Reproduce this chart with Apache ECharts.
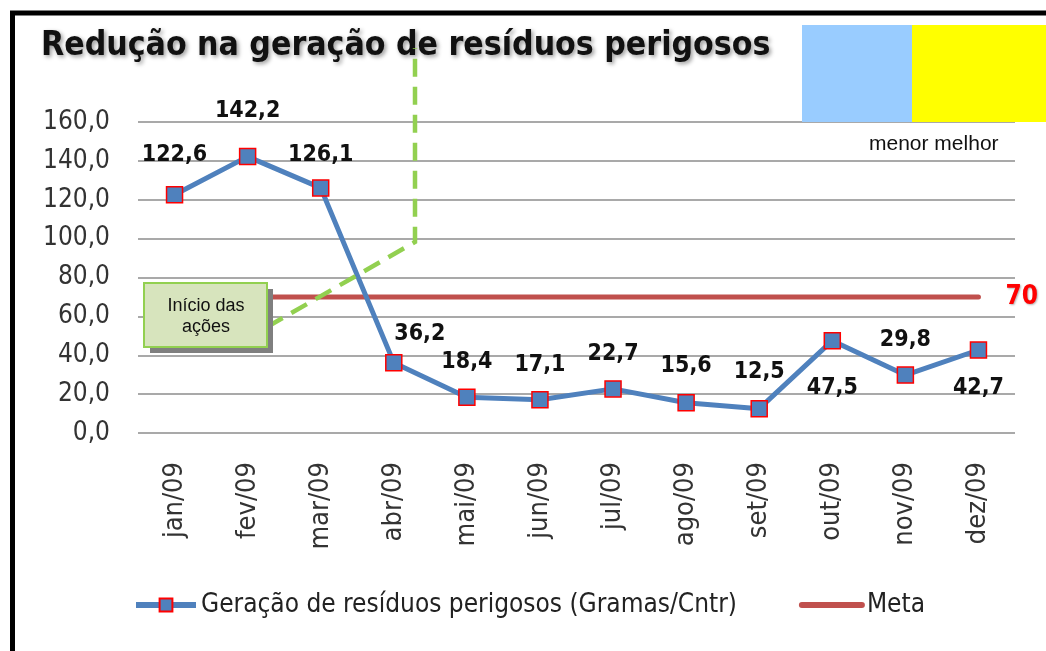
<!DOCTYPE html>
<html>
<head>
<meta charset="utf-8">
<style>
  html, body { margin: 0; padding: 0; background: #fff; }
  #main { width: 1046px; height: 651px; }
</style>
<script src="https://cdn.jsdelivr.net/npm/echarts@6/dist/echarts.min.js"></script>
</head>
<body>
<div id="main"></div>
<script>
var myChart = echarts.init(document.getElementById('main'));

// dados
var meses = ['jan/09', 'fev/09', 'mar/09', 'abr/09', 'mai/09', 'jun/09',
             'jul/09', 'ago/09', 'set/09', 'out/09', 'nov/09', 'dez/09'];
var residuos = [122.6, 142.2, 126.1, 36.2, 18.4, 17.1, 22.7, 15.6, 12.5, 47.5, 29.8, 42.7];
var meta = [70, 70, 70, 70, 70, 70, 70, 70, 70, 70, 70, 70];

var fonte = "'DejaVu Sans Condensed', 'DejaVu Sans', sans-serif";
var arial = "'Liberation Sans', Arial, sans-serif";
var virgula = function (v) { return v.toFixed(1).replace('.', ','); };

// posição dos rótulos (acima / abaixo) e afastamento do ponto
var rotuloPos  = ['top', 'top', 'top', 'top', 'top', 'top', 'top', 'top', 'top', 'bottom', 'top', 'bottom'];
var rotuloDist = [19, 25, 13, 8, 15, 14, 15, 16, 16, 27, 15, 18];

var pontos = residuos.map(function (v, i) {
    var lab = { position: rotuloPos[i], distance: rotuloDist[i] };
    if (i === 3) lab.offset = [26, 0];
    return { value: v, label: lab };
});

myChart.setOption({
    animation: false,
    title: {
        text: 'Redução na geração de resíduos perigosos',
        left: 36,
        top: 24,
        textStyle: {
            fontFamily: fonte,
            fontSize: 33.5,
            fontWeight: 'bold',
            color: '#111',
            textShadowColor: 'rgba(0,0,0,0.4)',
            textShadowBlur: 4,
            textShadowOffsetX: 2,
            textShadowOffsetY: 2
        }
    },
    legend: {
        bottom: 28,
        left: 128,
        itemWidth: 60,
        itemHeight: 16,
        itemGap: 62,
        textStyle: { fontFamily: fonte, fontSize: 26, color: '#222' },
        data: [
            { name: 'Geração de resíduos perigosos (Gramas/Cntr)', lineStyle: { width: 6 } },
            { name: 'Meta', lineStyle: { width: 6 }, itemStyle: { opacity: 0 } }
        ]
    },
    grid: { left: 138, right: 31, top: 122, bottom: 218 },
    xAxis: {
        type: 'category',
        data: meses,
        boundaryGap: true,
        axisLine: { show: false },
        axisTick: { show: false },
        axisLabel: {
            rotate: 90,
            margin: 29,
            fontFamily: fonte,
            fontSize: 27,
            color: '#333'
        }
    },
    yAxis: {
        type: 'value',
        min: 0,
        max: 160,
        interval: 20,
        axisLine: { show: false },
        axisTick: { show: false },
        splitLine: { lineStyle: { color: '#8c8c8c', width: 1.5 } },
        axisLabel: {
            margin: 28,
            fontFamily: fonte,
            fontSize: 26,
            color: '#333',
            formatter: virgula
        }
    },
    series: [{
        name: 'Meta',
        type: 'line',
        data: meta,
        symbol: 'none',
        z: 2,
        lineStyle: { color: '#C0504D', width: 5, cap: 'round' },
        itemStyle: { color: '#C0504D' },
        endLabel: {
            show: true,
            distance: 27,
            formatter: function (p) { return String(p.value); },
            color: '#FF0000',
            fontFamily: fonte,
            fontWeight: 'bold',
            fontSize: 26,
            textShadowColor: 'rgba(0,0,0,0.3)',
            textShadowBlur: 2,
            textShadowOffsetX: 1,
            textShadowOffsetY: 1
        }
    }, {
        name: 'Geração de resíduos perigosos (Gramas/Cntr)',
        type: 'line',
        data: pontos,
        z: 3,
        symbol: 'rect',
        symbolSize: 16,
        lineStyle: { color: '#4F81BD', width: 5 },
        itemStyle: { color: '#4F81BD', borderColor: '#FF0000', borderWidth: 1.5 },
        label: {
            show: true,
            fontFamily: fonte,
            fontWeight: 'bold',
            fontSize: 23,
            color: '#111',
            formatter: function (p) { return virgula(p.value); }
        }
    }],
    graphic: [
        // moldura
        { type: 'rect', z: 100, shape: { x: 12.5, y: 13, width: 1060, height: 660 },
          style: { fill: 'none', stroke: '#000', lineWidth: 5 } },
        // caixas de cor
        { type: 'rect', z: 101, shape: { x: 802, y: 25, width: 110, height: 97 }, style: { fill: '#99CCFF' } },
        { type: 'rect', z: 101, shape: { x: 912, y: 25, width: 134, height: 97 }, style: { fill: '#FFFF00' } },
        { type: 'text', z: 101, left: 869, top: 134,
          style: { text: 'menor melhor', font: '21px ' + arial, fill: '#111' } },
        // linha tracejada verde
        { type: 'polyline', z: 50, shape: { points: [[267, 327], [415, 242], [415, 48]] },
          style: { fill: 'none', stroke: '#92D050', lineWidth: 4.5, lineDash: [18, 10] } },
        // caixa "Início das ações"
        { type: 'rect', z: 60, shape: { x: 150, y: 289, width: 123, height: 64 }, style: { fill: '#7f7f7f' } },
        { type: 'rect', z: 61, shape: { x: 144, y: 283, width: 123, height: 64 },
          style: { fill: '#D7E4BD', stroke: '#92D050', lineWidth: 2 } },
        { type: 'text', z: 62, x: 206, y: 296,
          style: { text: 'Início das\nações', font: '18px ' + arial, fill: '#111',
                   align: 'center', lineHeight: 21 } }
    ]
});
</script>
</body>
</html>
